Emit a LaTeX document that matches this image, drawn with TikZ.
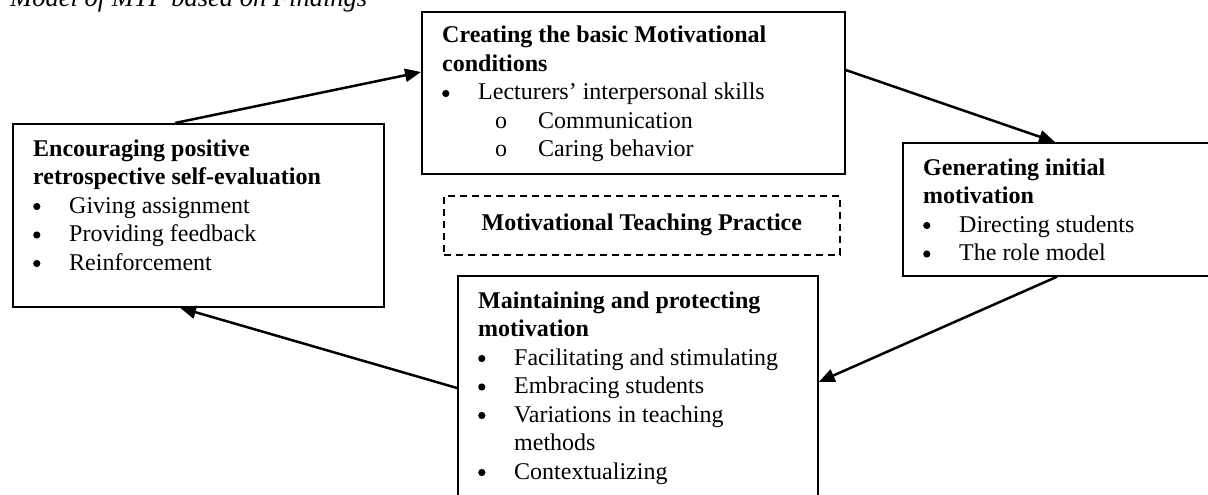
\documentclass[tikz,border=0pt]{standalone}
\usepackage{fontspec}
\setmainfont{Liberation Serif}
\usetikzlibrary{arrows.meta}
\newcommand{\bdot}{\tikz[baseline=0pt]{\fill (4.5pt,6.5pt) circle (3.6pt);}}
\newcommand{\bul}[1]{\makebox[36pt][l]{\bdot}#1}
\newcommand{\cont}[1]{\makebox[36pt][l]{}#1}
\newcommand{\subbul}[1]{\hspace{53pt}\makebox[43pt][l]{o}#1}
\tikzset{
  box/.style={draw, line width=1.7pt, inner sep=0pt, anchor=north west},
  dbox/.style={draw, line width=1.6pt, dash pattern=on 7pt off 5pt, inner sep=0pt, anchor=north west},
  content/.style={anchor=base west, inner sep=0pt, font=\fontsize{24}{28.5}\selectfont},
  arr/.style={line width=2.5pt, -{Triangle[length=16pt,width=13pt]}}
}
\begin{document}
\begin{tikzpicture}[x=1pt,y=-1pt]
\useasboundingbox (0,0) rectangle (1208,495);
% title (cut off at the top)
\node[anchor=base west, inner sep=0pt, font=\fontsize{26.5}{30}\selectfont\itshape] (title) at (10,7) {Model of MTP based on Findings};
% boxes
\node[box, minimum width=423pt, minimum height=162pt] (top) at (421,11) {};
\node[box, minimum width=371pt, minimum height=183pt] (left) at (12,123) {};
\node[box, minimum width=320pt, minimum height=133pt] (right) at (902,142) {};
\node[box, minimum width=360pt, minimum height=230pt] (bot) at (457,275) {};
\node[dbox, minimum width=396pt, minimum height=59pt] (mtp) at (443,195) {};
% contents
\node[content] (toptext) at (442,43) {\parbox[t]{400pt}{\raggedright
  \textbf{Creating the basic Motivational}\\
  \textbf{conditions}\\
  \bul{Lecturers' interpersonal skills}\\
  \subbul{Communication}\\
  \subbul{Caring behavior}}};
\node[content] (lefttext) at (33,156) {\parbox[t]{345pt}{\raggedright
  \textbf{Encouraging positive}\\
  \textbf{retrospective self-evaluation}\\
  \bul{Giving assignment}\\
  \bul{Providing feedback}\\
  \bul{Reinforcement}}};
\node[content] (righttext) at (923,175) {\parbox[t]{280pt}{\raggedright
  \textbf{Generating initial}\\
  \textbf{motivation}\\
  \bul{Directing students}\\
  \bul{The role model}}};
\node[content] (bottext) at (478,308) {\parbox[t]{340pt}{\raggedright
  \textbf{Maintaining and protecting}\\
  \textbf{motivation}\\
  \bul{Facilitating and stimulating}\\
  \bul{Embracing students}\\
  \bul{Variations in teaching}\\
  \cont{methods}\\
  \bul{Contextualizing}}};
\node[inner sep=0pt, font=\fontsize{24}{28}\selectfont\bfseries] (mtptext) at (mtp.center) {Motivational Teaching Practice};
% arrows
\draw[arr] ([xshift=163pt]left.north west) -- ([yshift=-61pt]top.north west);
\draw[arr] ([yshift=-59pt]top.north east) -- ([xshift=153pt]right.north west);
\draw[arr] ([xshift=155pt]right.south west) -- ([yshift=-107pt]bot.north east);
\draw[arr] ([yshift=-113pt]bot.north west) -- ([xshift=168pt]left.south west);
\end{tikzpicture}
\end{document}
